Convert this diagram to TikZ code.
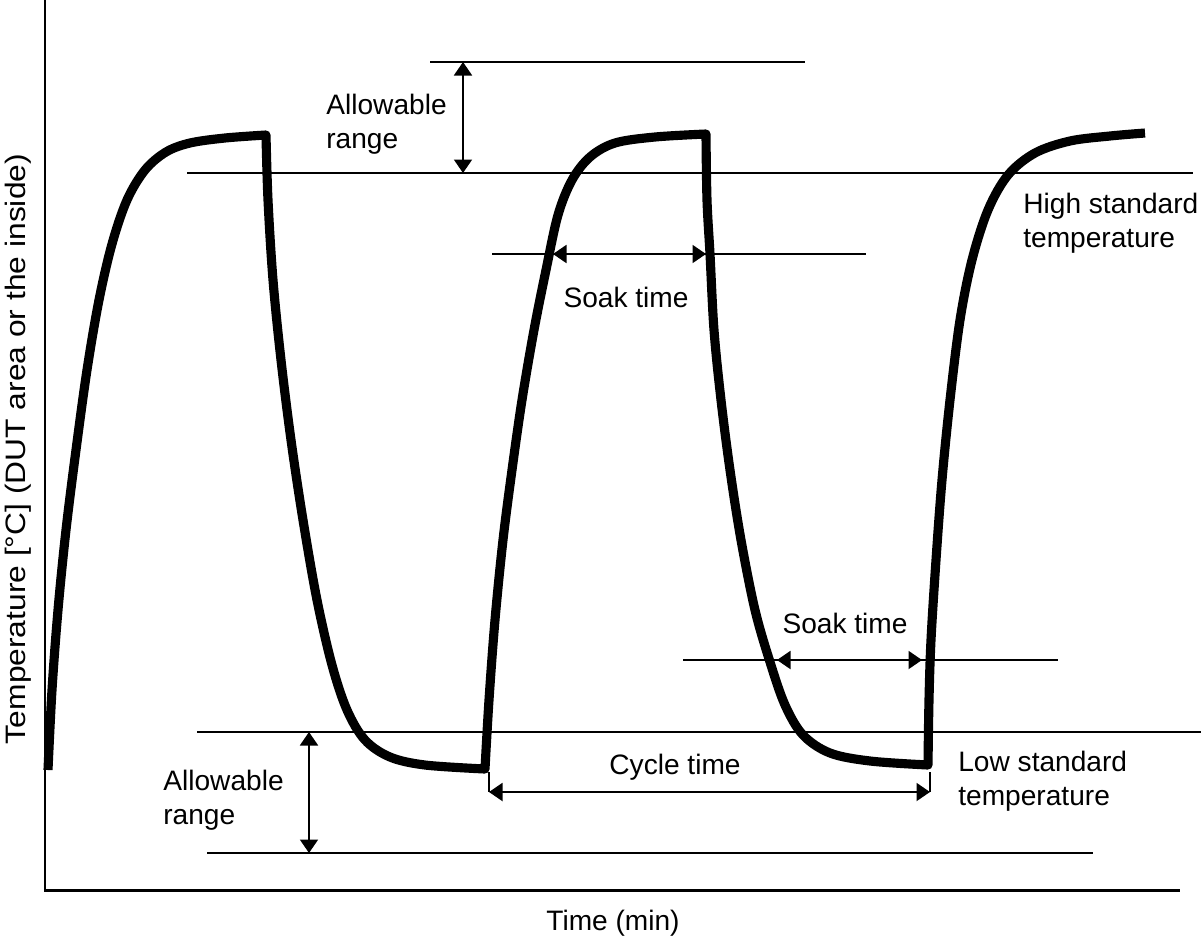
\documentclass[tikz,border=0pt]{standalone}
\usepackage{fontspec}
\setmainfont{Liberation Sans}
\usetikzlibrary{arrows.meta,positioning,calc}
\tikzset{
	trace/.style={line width=5.2pt, line join=round},
	guide/.style={line width=0.8pt},
	span/.style={{Triangle[length=0.27cm,width=0.36cm]}-{Triangle[length=0.27cm,width=0.36cm]}, line width=1.1pt},
	axisline/.style={line width=1.7pt},
	lbl/.style={font=\fontsize{16}{19.4}\selectfont, inner sep=0pt, align=left}
}

\begin{document}
\begin{tikzpicture}[x=0.02cm, y=-0.02cm]
	\useasboundingbox (0,0) rectangle (1204,944);
	% axes
	\coordinate (yTop) at (45,0);
	\coordinate (origin) at (45,890);
	\coordinate (xEnd) at (1180,890);
	\draw[axisline] (yTop) -- (origin) -- (xEnd);
	% reference levels
	\coordinate (upA) at (430,62);   \coordinate (upB) at (805,62);
	\coordinate (hiA) at (187,173);  \coordinate (hiB) at (1193,173);
	\coordinate (skA) at (492,254);  \coordinate (skB) at (866,254);
	\coordinate (slA) at (683,660);  \coordinate (slB) at (1058,660);
	\coordinate (loA) at (197,732);  \coordinate (loB) at (1201,732);
	\coordinate (dnA) at (207,853);  \coordinate (dnB) at (1093,853);
	\foreach \a/\b in {upA/upB, hiA/hiB, skA/skB, slA/slB, loA/loB, dnA/dnB}
		\draw[guide] (\a) -- (\b);
	% temperature trace
	\draw[trace]
		plot[smooth, tension=0.55] coordinates {(48,770) (52,690) (58,610) (66,530) (76,450) (87,370) (99,300) (112,244) (127,200) (145,170) (166,152) (190,143) (225,138) (266,135)}
		-- plot[smooth, tension=0.55] coordinates {(266,135) (268,200) (273,280) (281,360) (291,440) (303,520) (317,600) (332,665) (347,710) (365,740) (390,757) (425,765) (485,769)}
		-- plot[smooth, tension=0.55] coordinates {(485,769) (489,700) (495,620) (503,540) (512,470) (522,400) (534,330) (546,270) (558,215) (572,180) (590,157) (615,143) (655,137) (706,134)}
		-- plot[smooth, tension=0.55] coordinates {(706,134) (707,200) (710,254) (714,330) (721,400) (730,470) (741,540) (755,610) (770,662) (785,705) (803,735) (830,753) (870,761) (928,765)}
		-- plot[smooth, tension=0.55] coordinates {(928,765) (929,700) (931,640) (936,560) (942,480) (950,400) (960,320) (972,260) (988,210) (1008,175) (1035,153) (1070,141) (1110,136) (1145,133)};
	% dimension arrows
	\coordinate (upT) at (463,62);   \coordinate (upD) at (463,173);
	\coordinate (dnT) at (309,732);  \coordinate (dnD) at (309,853);
	\coordinate (s1L) at (553,254);  \coordinate (s1R) at (706,254);
	\coordinate (s2L) at (777,660);  \coordinate (s2R) at (922,660);
	\coordinate (cyL) at (489,792);  \coordinate (cyR) at (930,792);
	\coordinate (cyLt) at (489,772); \coordinate (cyRt) at (930,772);
	\draw[span] (upT) -- (upD);
	\draw[span] (dnT) -- (dnD);
	\draw[span] (s1L) -- (s1R);
	\draw[span] (s2L) -- (s2R);
	\draw[span] (cyL) -- (cyR);
	\draw[guide, line width=0.6pt] (cyLt) -- (cyL) (cyRt) -- (cyR);
	% labels
	\node[lbl, anchor=west] (rangeUp) at (326,124) {Allowable\\range};
	\node[lbl, anchor=west] (rangeDn) at (163,800) {Allowable\\range};
	\node[lbl, anchor=west] (hiStd) at (1023,223) {High standard\\temperature};
	\node[lbl, anchor=west] (loStd) at (958,781) {Low standard\\temperature};
	\node[lbl] (soakHi) at (626,297) {Soak time};
	\node[lbl] (soakLo) at (845,623) {Soak time};
	\node[lbl] (cycle) at (675,767) {Cycle time};
	\node[lbl] (xlab) at (613,923) {Time (min)};
	\node[lbl, rotate=90] (ylab) at (18,449) {\scalebox{1.13}[1]{Temperature [°C] (DUT area or the inside)}};
\end{tikzpicture}
\end{document}
